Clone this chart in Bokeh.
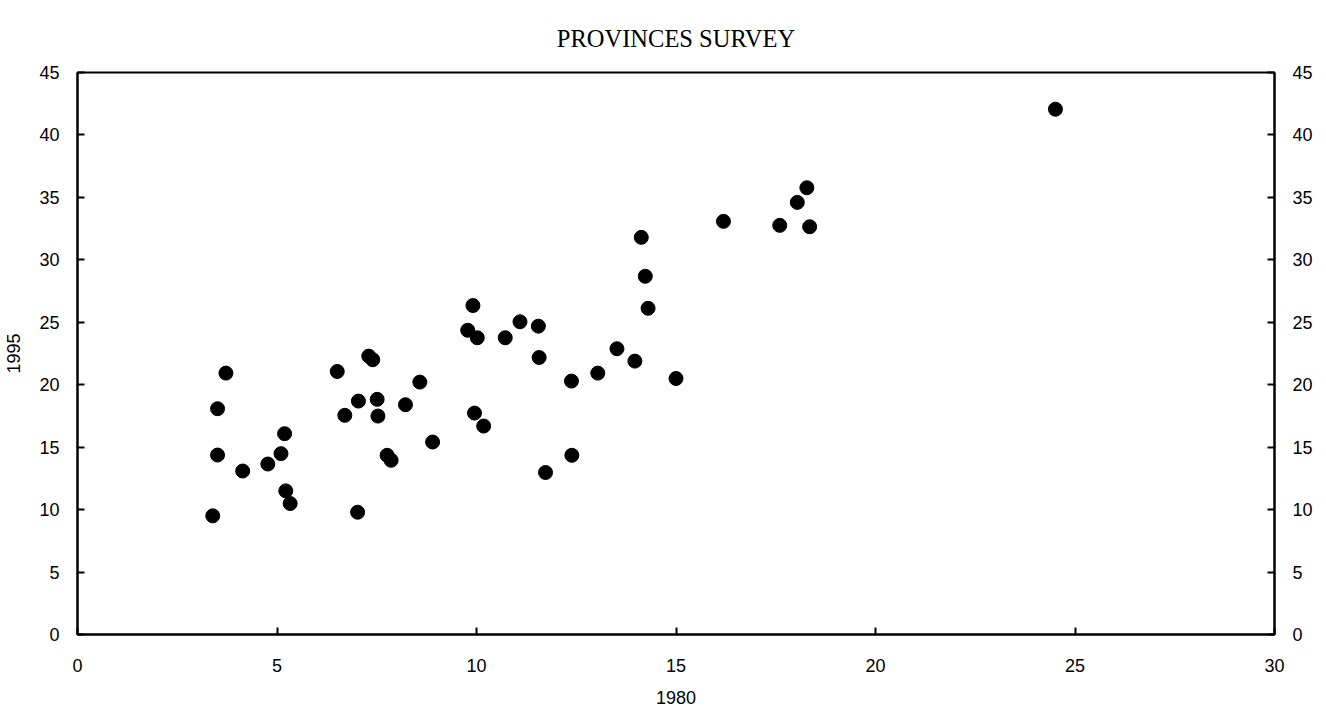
from bokeh.plotting import figure
from bokeh.models import Range1d, LinearAxis, SingleIntervalTicker, ColumnDataSource
from bokeh.embed import file_html
from bokeh.resources import INLINE

# 1980 values (x) and 1995 values (y) per province
x1980 = [3.39, 3.51, 3.51, 3.72, 4.14, 4.77, 5.10, 5.19, 5.22, 5.33,
         6.51, 7.30, 7.40, 7.04, 7.51, 6.70, 7.53, 8.22, 8.58, 7.76,
         7.86, 7.02, 8.90, 9.95, 10.18,
         9.91, 9.78, 10.02, 10.72, 11.09, 11.55, 11.57, 12.38, 13.04, 13.52,
         13.97, 15.00, 14.30, 12.39, 11.73,
         14.13, 14.23, 16.19, 17.60, 18.35, 18.04, 18.28, 24.51]
y1995 = [9.50, 18.08, 14.37, 20.93, 13.09, 13.65, 14.48, 16.08, 11.50, 10.49,
         21.06, 22.29, 22.00, 18.69, 18.83, 17.55, 17.49, 18.40, 20.21, 14.35,
         13.95, 9.79, 15.41, 17.73, 16.69,
         26.34, 24.36, 23.76, 23.76, 25.04, 24.69, 22.18, 20.29, 20.93, 22.88,
         21.89, 20.50, 26.12, 14.35, 12.97,
         31.80, 28.68, 33.08, 32.76, 32.65, 34.60, 35.77, 42.06]

title_text = "PROVINCES SURVEY"
x_label = "1980"
y_label = "1995"

src = ColumnDataSource(dict(x=x1980, y=y1995))

p = figure(width=1326, height=713, output_backend="svg", toolbar_location=None,
           x_range=Range1d(0, 30), y_range=Range1d(0, 45),
           min_border_left=77, min_border_right=52, min_border_top=72, min_border_bottom=79,
           title=title_text)
p.title.align = "center"
p.title.vertical_align = "top"
p.title.text_font = "Liberation Serif"
p.title.text_font_size = "24.5px"
p.title.text_font_style = "normal"
p.title.text_color = "black"
p.title.standoff = 38

p.grid.visible = False
p.background_fill_color = "white"
p.border_fill_color = "white"
p.outline_line_color = "black"
p.outline_line_width = 2

p.scatter("x", "y", source=src, size=14, color="black")

def style_axis(ax, standoff):
    ax.axis_line_color = "black"
    ax.axis_line_width = 2
    ax.major_tick_in = 7
    ax.major_tick_out = 0
    ax.major_tick_line_width = 2
    ax.major_tick_line_color = "black"
    ax.minor_tick_line_color = None
    ax.major_label_text_font = "Liberation Sans"
    ax.major_label_text_font_size = "18px"
    ax.major_label_text_color = "black"
    ax.major_label_standoff = standoff
    ax.axis_label_text_font = "Liberation Sans"
    ax.axis_label_text_font_size = "18px"
    ax.axis_label_text_font_style = "normal"
    ax.axis_label_text_color = "black"

xa = p.xaxis[0]
xa.ticker = SingleIntervalTicker(interval=5)
xa.axis_label = x_label
style_axis(xa, 20)
xa.axis_label_standoff = 16

ya = p.yaxis[0]
ya.ticker = SingleIntervalTicker(interval=5)
ya.axis_label = y_label
style_axis(ya, 14)
ya.axis_label_standoff = 16

ra = LinearAxis(ticker=SingleIntervalTicker(interval=5))
style_axis(ra, 14)
p.add_layout(ra, "right")

open("out.html", "w").write(file_html(p, INLINE))
